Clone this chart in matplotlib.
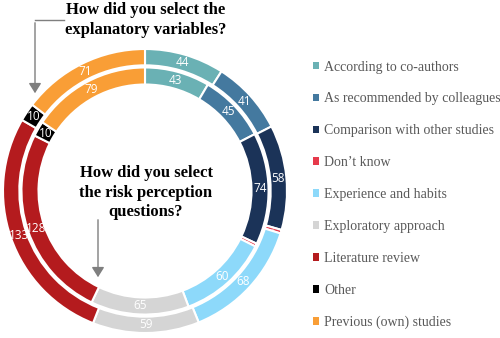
import numpy as np
import matplotlib
matplotlib.use("Agg")
import matplotlib.pyplot as plt
from matplotlib.font_manager import FontProperties

categories = ["According to co-authors", "As recommended by colleagues",
              "Comparison with other studies", "Don\u2019t know",
              "Experience and habits", "Exploratory approach",
              "Literature review", "Other", "Previous (own) studies"]
outer_values = [44, 41, 58, 2, 68, 59, 133, 10, 71]   # explanatory variables
inner_values = [43, 45, 74, 2, 60, 65, 128, 10, 79]   # risk perception questions
colors = ["#6AB1B4", "#44799F", "#1B3358", "#E63A4B", "#8DD9FA",
          "#D5D5D5", "#B41B1E", "#000000", "#F99E36"]

fig = plt.figure(figsize=(5, 3.38), dpi=100)
ax = fig.add_axes([3/500, 5/338, 284/500, 284/338])
ax.set_xlim(-1, 1); ax.set_ylim(-1, 1); ax.set_aspect('equal'); ax.axis('off')

wprops = dict(edgecolor='white', linewidth=1.5)
w_out, _ = ax.pie(outer_values, radius=1.0, colors=colors, startangle=90,
                  counterclock=False, wedgeprops=dict(width=0.115, **wprops))
w_in, _ = ax.pie(inner_values, radius=0.87, colors=colors, startangle=90,
                 counterclock=False, wedgeprops=dict(width=0.12, **wprops))
ax.set_xlim(-1, 1); ax.set_ylim(-1, 1)

for wedges, vals in ((w_out, outer_values), (w_in, inner_values)):
    for w, v in zip(wedges, vals):
        ang = np.deg2rad((w.theta1 + w.theta2) / 2)
        r = w.r - w.width / 2
        fs = 3 if v < 5 else 8.5
        ax.text(r*np.cos(ang), r*np.sin(ang), str(v), color='white',
                fontsize=fs, ha='center', va='center', family='Open Sans')

serif = 'Liberation Serif'
fig.text(146/500, 1 - 2/338, "How did you select the\nexplanatory variables?",
         ha='center', va='top', fontsize=12, fontweight='bold', family=serif,
         linespacing=1.3)
fig.text(146/500, 1 - 165/338, "How did you select\nthe risk perception\nquestions?",
         ha='center', va='top', fontsize=12, fontweight='bold', family=serif,
         linespacing=1.3)

def fx(x): return x/500
def fy(y): return 1 - y/338
fig.add_artist(plt.Line2D([fx(35), fx(64)], [fy(20), fy(20)], color='#7f7f7f', lw=1,
                          transform=fig.transFigure))
fig.add_artist(matplotlib.patches.FancyArrowPatch((fx(35), fy(20)), (fx(35), fy(96)),
               transform=fig.transFigure, arrowstyle='-|>,head_length=4,head_width=2.5',
               color='#7f7f7f', lw=1, mutation_scale=1.5))
fig.add_artist(matplotlib.patches.FancyArrowPatch((fx(98), fy(217)), (fx(98), fy(280)),
               transform=fig.transFigure, arrowstyle='-|>,head_length=4,head_width=2.5',
               color='#7f7f7f', lw=1, mutation_scale=1.5))

leg = fig.legend(w_out, categories, loc='upper left',
                 bbox_to_anchor=(300/500, 1 - 48/338), frameon=False,
                 prop=FontProperties(family=serif, size=10), handlelength=0.45,
                 handleheight=0.45, handletextpad=0.4, labelspacing=1.36)
for t in leg.get_texts():
    t.set_color('#595959')
for h in leg.legend_handles:
    h.set_edgecolor('none')

fig.savefig("out.png", dpi=100)
